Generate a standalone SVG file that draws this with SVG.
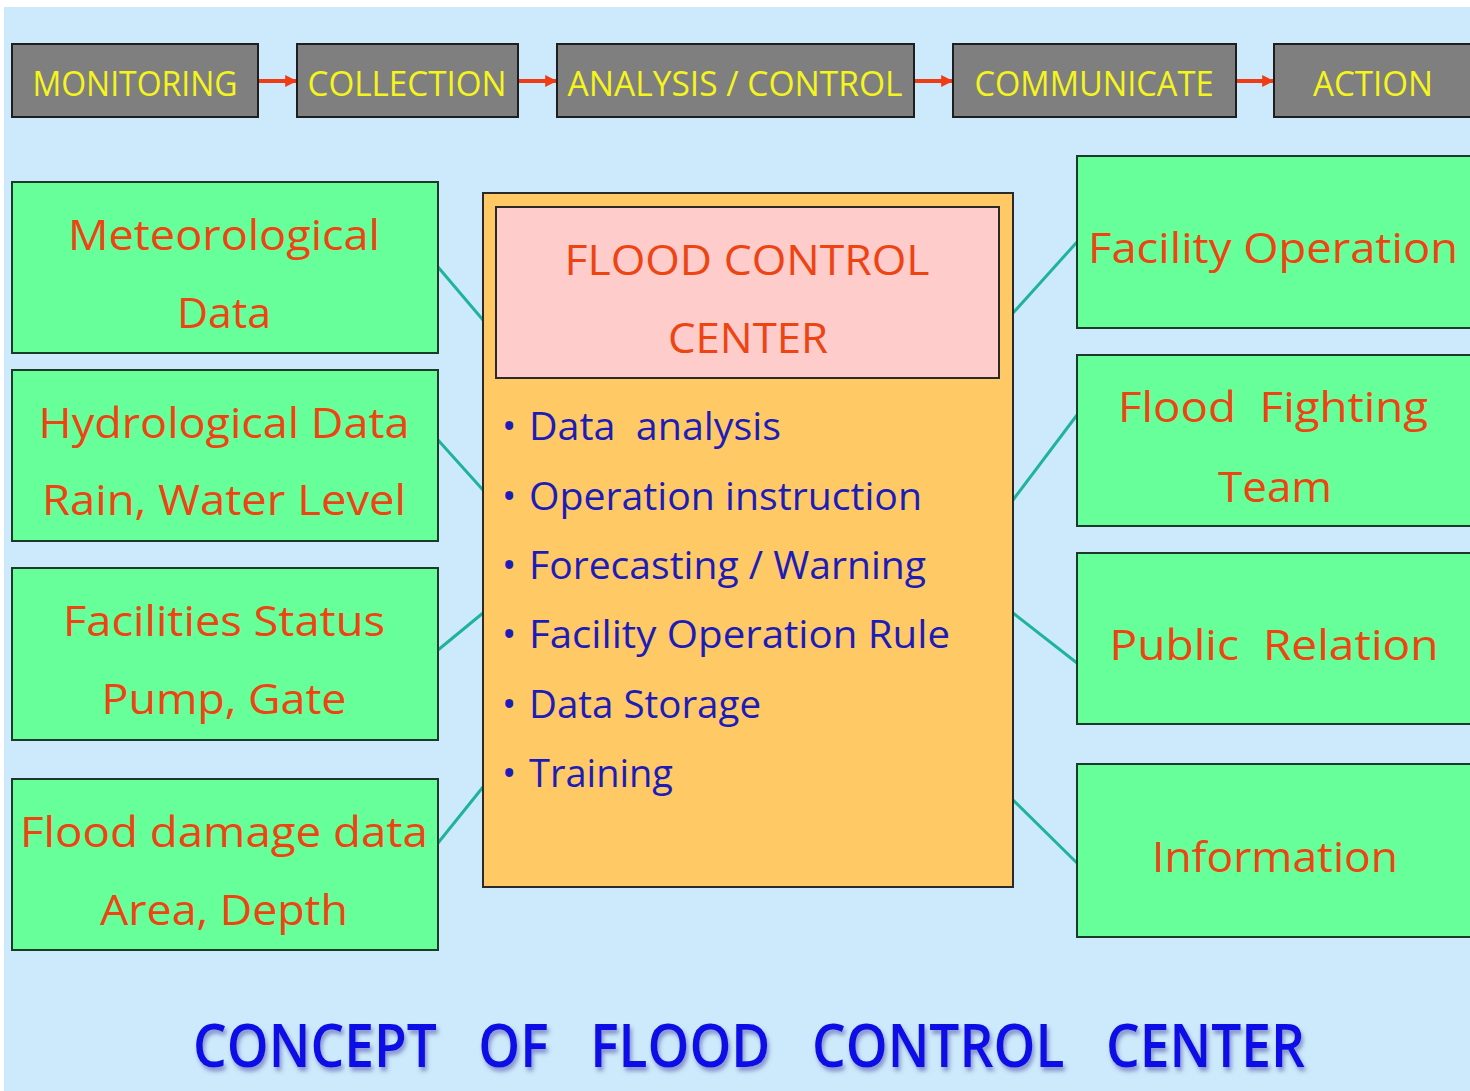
<svg xmlns="http://www.w3.org/2000/svg" width="1470" height="1091" viewBox="0 0 1470 1091">
<defs>
<style>
.step{fill:#7f7f7f;stroke:#1e1e1e;stroke-width:2}
.steptxt{font-family:"Open Sans","Liberation Sans",sans-serif;font-size:34px;fill:#f5f51c;text-anchor:middle}
.src{fill:#66ff99;stroke:#1c3a28;stroke-width:2}
.srctxt{font-family:"Open Sans","Liberation Sans",sans-serif;font-size:42px;fill:#ee4412;text-anchor:middle}
.bul{font-family:"Open Sans","Liberation Sans",sans-serif;font-size:38px;fill:#1c1cb8}
.conn{stroke:#1fb39e;stroke-width:3;fill:none}
.arr{stroke:#f03c14;stroke-width:4;fill:none}
</style>
<marker id="ah" viewBox="0 0 10 10" refX="9" refY="5" markerWidth="3" markerHeight="3" orient="auto" markerUnits="strokeWidth">
<path d="M0,0 L10,5 L0,10 z" fill="#f03c14"/>
</marker>
<filter id="sh" x="-5%" y="-20%" width="110%" height="150%">
<feGaussianBlur in="SourceAlpha" stdDeviation="2"/>
<feOffset dx="2" dy="4" result="b"/>
<feFlood flood-color="#5555aa" flood-opacity="0.6"/>
<feComposite in2="b" operator="in"/>
<feMerge><feMergeNode/><feMergeNode in="SourceGraphic"/></feMerge>
</filter>
</defs>
<rect x="0" y="0" width="1470" height="1091" fill="#ffffff"/>
<rect x="4" y="7" width="1466" height="1084" fill="#cceafb"/>

<g id="connectors">
<line class="arr" x1="259" y1="81" x2="296" y2="81" marker-end="url(#ah)"/>
<line class="arr" x1="519" y1="81" x2="556" y2="81" marker-end="url(#ah)"/>
<line class="arr" x1="915" y1="81" x2="952" y2="81" marker-end="url(#ah)"/>
<line class="arr" x1="1237" y1="81" x2="1273" y2="81" marker-end="url(#ah)"/>
<line class="conn" x1="438" y1="267" x2="483" y2="320"/>
<line class="conn" x1="438" y1="440" x2="483" y2="490"/>
<line class="conn" x1="438" y1="650" x2="483" y2="613"/>
<line class="conn" x1="438" y1="843" x2="483" y2="787"/>
<line class="conn" x1="1013" y1="313" x2="1077" y2="242"/>
<line class="conn" x1="1013" y1="500" x2="1077" y2="415"/>
<line class="conn" x1="1013" y1="613" x2="1077" y2="663"/>
<line class="conn" x1="1013" y1="800" x2="1077" y2="863"/>
</g>

<g id="step-monitoring"><rect class="step" x="12" y="44" width="246" height="73"/><text class="steptxt" x="135" y="96" textLength="205" lengthAdjust="spacingAndGlyphs">MONITORING</text></g>
<g id="step-collection"><rect class="step" x="297" y="44" width="221" height="73"/><text class="steptxt" x="407" y="96" textLength="199" lengthAdjust="spacingAndGlyphs">COLLECTION</text></g>
<g id="step-analysis"><rect class="step" x="557" y="44" width="357" height="73"/><text class="steptxt" x="735" y="96" textLength="335" lengthAdjust="spacingAndGlyphs">ANALYSIS / CONTROL</text></g>
<g id="step-communicate"><rect class="step" x="953" y="44" width="283" height="73"/><text class="steptxt" x="1094" y="96" textLength="239" lengthAdjust="spacingAndGlyphs">COMMUNICATE</text></g>
<g id="step-action"><rect class="step" x="1274" y="44" width="200" height="73"/><text class="steptxt" x="1373" y="96" textLength="120" lengthAdjust="spacingAndGlyphs">ACTION</text></g>

<g id="src-meteo"><rect class="src" x="12" y="182" width="426" height="171"/>
<text class="srctxt" x="224" y="250" textLength="312" lengthAdjust="spacingAndGlyphs">Meteorological</text>
<text class="srctxt" x="224" y="328" textLength="94" lengthAdjust="spacingAndGlyphs">Data</text></g>
<g id="src-hydro"><rect class="src" x="12" y="370" width="426" height="171"/>
<text class="srctxt" x="224" y="438" textLength="371" lengthAdjust="spacingAndGlyphs">Hydrological Data</text>
<text class="srctxt" x="224" y="515" textLength="364" lengthAdjust="spacingAndGlyphs">Rain, Water Level</text></g>
<g id="src-facilities"><rect class="src" x="12" y="568" width="426" height="172"/>
<text class="srctxt" x="224" y="636" textLength="322" lengthAdjust="spacingAndGlyphs">Facilities Status</text>
<text class="srctxt" x="224" y="714" textLength="245" lengthAdjust="spacingAndGlyphs">Pump, Gate</text></g>
<g id="src-damage"><rect class="src" x="12" y="779" width="426" height="171"/>
<text class="srctxt" x="224" y="847" textLength="408" lengthAdjust="spacingAndGlyphs">Flood damage data</text>
<text class="srctxt" x="224" y="925" textLength="248" lengthAdjust="spacingAndGlyphs">Area, Depth</text></g>

<g id="center">
<rect x="483" y="193" width="530" height="694" fill="#ffc966" stroke="#2a2a2a" stroke-width="2"/>
<rect x="496" y="207" width="503" height="171" fill="#ffcccc" stroke="#2a2a2a" stroke-width="2"/>
<text class="srctxt" x="747" y="275" textLength="365" lengthAdjust="spacingAndGlyphs">FLOOD CONTROL</text>
<text class="srctxt" x="748" y="353" textLength="160" lengthAdjust="spacingAndGlyphs">CENTER</text>
<g class="bul">
<text x="502" y="440">•</text><text class="bul" x="529" y="440" textLength="252" lengthAdjust="spacingAndGlyphs" xml:space="preserve">Data  analysis</text>
<text x="502" y="510">•</text><text class="bul" x="529" y="510" textLength="393" lengthAdjust="spacingAndGlyphs">Operation instruction</text>
<text x="502" y="579">•</text><text class="bul" x="529" y="579" textLength="397" lengthAdjust="spacingAndGlyphs">Forecasting / Warning</text>
<text x="502" y="648">•</text><text class="bul" x="529" y="648" textLength="421" lengthAdjust="spacingAndGlyphs">Facility Operation Rule</text>
<text x="502" y="718">•</text><text class="bul" x="529" y="718" textLength="232" lengthAdjust="spacingAndGlyphs">Data Storage</text>
<text x="502" y="787">•</text><text class="bul" x="529" y="787" textLength="144" lengthAdjust="spacingAndGlyphs">Training</text>
</g>
</g>

<g id="out-facility"><rect class="src" x="1077" y="156" width="400" height="172"/>
<text class="srctxt" x="1273" y="263" textLength="370" lengthAdjust="spacingAndGlyphs">Facility Operation</text></g>
<g id="out-fighting"><rect class="src" x="1077" y="355" width="400" height="171"/>
<text class="srctxt" x="1273" y="422" textLength="310" lengthAdjust="spacingAndGlyphs" xml:space="preserve">Flood  Fighting</text>
<text class="srctxt" x="1275" y="502" textLength="114" lengthAdjust="spacingAndGlyphs">Team</text></g>
<g id="out-public"><rect class="src" x="1077" y="553" width="400" height="171"/>
<text class="srctxt" x="1274" y="660" textLength="329" lengthAdjust="spacingAndGlyphs" xml:space="preserve">Public  Relation</text></g>
<g id="out-info"><rect class="src" x="1077" y="764" width="400" height="173"/>
<text class="srctxt" x="1275" y="872" textLength="246" lengthAdjust="spacingAndGlyphs">Information</text></g>

<g id="title">
<text x="749" y="1067" filter="url(#sh)" font-family="'Open Sans','Liberation Sans',sans-serif" font-size="60" font-weight="600" fill="#0a0ae6" text-anchor="middle" textLength="1112" lengthAdjust="spacingAndGlyphs" xml:space="preserve">CONCEPT   OF   FLOOD   CONTROL   CENTER</text>
</g>
</svg>
